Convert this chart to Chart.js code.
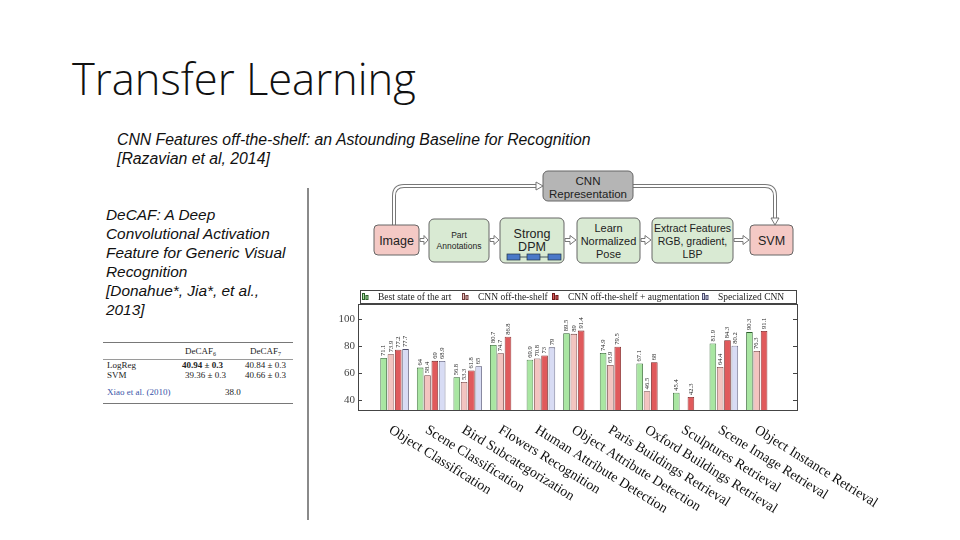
<!DOCTYPE html>
<html><head><meta charset="utf-8">
<script src="https://cdn.jsdelivr.net/npm/chart.js@4.4.1/dist/chart.umd.min.js"></script>
<style>
html,body{margin:0;padding:0;background:#fff;}
#slide{position:relative;width:960px;height:540px;overflow:hidden;background:#fff;}
.abs{position:absolute;white-space:nowrap;}
#title{left:72px;top:49px;font:300 43.5px 'Open Sans',sans-serif;color:#111;}
.it{font-family:'Liberation Sans',Arial,sans-serif;font-style:italic;color:#111;line-height:19px;}
#chartc{position:absolute;left:330px;top:286px;}
</style></head><body>
<div id="slide">
  <div class="abs" id="title">Transfer Learning</div>
  <div class="abs it" style="left:117px;top:130px;font-size:15.8px;">CNN Features off-the-shelf: an Astounding Baseline for Recognition<br>[Razavian et al, 2014]</div>
  <div class="abs it" style="left:106px;top:205px;font-size:15.4px;">DeCAF: A Deep<br>Convolutional Activation<br>Feature for Generic Visual<br>Recognition<br>[Donahue*, Jia*, et al.,<br>2013]</div>
  <svg class="abs" style="left:0;top:0" width="960" height="540" viewBox="0 0 960 540">
    <line x1="308" y1="188" x2="308" y2="520" stroke="#8a8a8a" stroke-width="2"/>
    <g font-family="Liberation Serif, serif" font-size="9" fill="#222">
      <line x1="103" y1="342.5" x2="293" y2="342.5" stroke="#555" stroke-width="0.8"/>
      <text x="185" y="354">DeCAF<tspan font-size="6" dy="2">6</tspan></text>
      <text x="250" y="354">DeCAF<tspan font-size="6" dy="2">7</tspan></text>
      <line x1="103" y1="359.5" x2="293" y2="359.5" stroke="#555" stroke-width="0.6"/>
      <text x="107" y="368">LogReg</text>
      <text x="182" y="368" font-weight="bold">40.94 ± 0.3</text>
      <text x="245" y="368">40.84 ± 0.3</text>
      <text x="107" y="378">SVM</text>
      <text x="185" y="378">39.36 ± 0.3</text>
      <text x="245" y="378">40.66 ± 0.3</text>
      <text x="107" y="395" fill="#3a55a8">Xiao et al. (2010)</text>
      <text x="225" y="395">38.0</text>
      <line x1="103" y1="403.5" x2="293" y2="403.5" stroke="#555" stroke-width="0.8"/>
    </g>
    <path d="M394 225 V196 Q394 186 404 186 H537" fill="none" stroke="#777" stroke-width="4"/>
    <path d="M394 225 V196 Q394 186 404 186 H537" fill="none" stroke="#fff" stroke-width="2"/>
    <polygon points="536,182 543,186 536,190" fill="#fff" stroke="#777" stroke-width="1"/>
    <path d="M633 186 H765 Q775 186 775 196 V219" fill="none" stroke="#777" stroke-width="4"/>
    <path d="M633 186 H765 Q775 186 775 196 V219" fill="none" stroke="#fff" stroke-width="2"/>
    <polygon points="771,218 775,225 779,218" fill="#fff" stroke="#777" stroke-width="1"/>
    <g font-family="Liberation Sans, Arial, sans-serif" text-anchor="middle" fill="#222">
      <rect x="543" y="171" width="90" height="30" rx="5" fill="#b5b5b5" stroke="#666"/>
      <text x="588" y="185" font-size="11.5">CNN</text>
      <text x="588" y="197.5" font-size="11.5">Representation</text>
      <rect x="374" y="225" width="45" height="30" rx="4" fill="#f4c9c5" stroke="#666"/>
      <text x="396.5" y="245" font-size="12.5">Image</text>
      <rect x="429" y="219" width="60" height="43" rx="5" fill="#d9ead3" stroke="#666"/>
      <text x="459" y="238" font-size="8.5">Part</text>
      <text x="459" y="249" font-size="8.5">Annotations</text>
      <rect x="500" y="218" width="64" height="45" rx="5" fill="#d9ead3" stroke="#666"/>
      <text x="532" y="238" font-size="12.5">Strong</text>
      <text x="532" y="251" font-size="12.5">DPM</text>
      <rect x="507" y="254" width="13" height="6" fill="#4a78c8" stroke="#234" stroke-width="0.7"/>
      <rect x="527" y="254" width="13" height="6" fill="#4a78c8" stroke="#234" stroke-width="0.7"/>
      <rect x="548" y="254" width="13" height="6" fill="#4a78c8" stroke="#234" stroke-width="0.7"/>
      <line x1="520" y1="257" x2="527" y2="257" stroke="#234" stroke-width="0.8"/>
      <line x1="540" y1="257" x2="548" y2="257" stroke="#234" stroke-width="0.8"/>
      <rect x="577" y="218" width="63" height="45" rx="5" fill="#d9ead3" stroke="#666"/>
      <text x="608.5" y="232" font-size="11">Learn</text>
      <text x="608.5" y="245" font-size="11">Normalized</text>
      <text x="608.5" y="258" font-size="11">Pose</text>
      <rect x="652" y="218" width="81" height="45" rx="5" fill="#d9ead3" stroke="#666"/>
      <text x="692.5" y="232" font-size="10.5">Extract Features</text>
      <text x="692.5" y="245" font-size="10.5">RGB, gradient,</text>
      <text x="692.5" y="258" font-size="10.5">LBP</text>
      <rect x="750" y="225" width="43" height="30" rx="4" fill="#f4c9c5" stroke="#666"/>
      <text x="771.5" y="245" font-size="12.5">SVM</text>
    </g>
    <g fill="#fff" stroke="#777" stroke-width="1">
      <polygon points="420,238.5 424,238.5 424,235.5 428,240 424,244.5 424,241.5 420,241.5"/>
      <polygon points="490,238.5 494,238.5 494,235.5 499,240 494,244.5 494,241.5 490,241.5"/>
      <polygon points="565,238.5 570,238.5 570,235.5 576,240 570,244.5 570,241.5 565,241.5"/>
      <polygon points="641,238.5 645,238.5 645,235.5 651,240 645,244.5 645,241.5 641,241.5"/>
      <polygon points="734,238.5 743,238.5 743,235.5 749,240 743,244.5 743,241.5 734,241.5"/>
    </g>
  </svg>
  <canvas id="chartc" width="580" height="234" style="width:580px;height:234px"></canvas>
</div>
<script>
const categories = ['Object Classification','Scene Classification','Bird Subcategorization','Flowers Recognition','Human Attribute Detection','Object Attribute Detection','Paris Buildings Retrieval','Oxford Buildings Retrieval','Sculptures Retrieval','Scene Image Retrieval','Object Instance Retrieval'];
const seriesNames = ['Best state of the art','CNN off-the-shelf','CNN off-the-shelf + augmentation','Specialized CNN'];
const bestStateOfArt = [71.1, 64, 56.8, 80.7, 69.9, 89.5, 74.9, 67.1, 45.4, 81.9, 90.3];
const cnnOffTheShelf = [73.9, 58.4, 53.3, 74.7, 70.8, 89, 65.9, 46.5, null, 64.4, 76.3];
const cnnAugmentation = [77.2, 69, 61.8, 86.8, 73, 91.4, 79.5, 68, 42.3, 84.3, 91.1];
const specializedCnn = [77.7, 68.9, 65, null, 79, null, null, null, null, 80.2, null];
const yTickValues = [40, 60, 80, 100];

const fills = ['#a9e6a2','#f3c4c0','#e05a5c','#d8dcf4'];
const borders = ['#2c5e2c','#6e3c3c','#701c1c','#4c4c6c'];
const seriesData = [bestStateOfArt, cnnOffTheShelf, cnnAugmentation, specializedCnn];
const legendTextX = [48, 148, 238, 388];

const datasets = seriesData.map((arr, k) => ({
  label: seriesNames[k],
  data: arr.map((v, i) => ({x: i + 1, y: v})),
  backgroundColor: fills[k],
  borderColor: borders[k],
  borderWidth: 0.8,
  categoryPercentage: 0.8,
  barPercentage: 0.9
}));

const serif = "'Liberation Serif', 'DejaVu Serif', serif";

const framePlugin = {
  id: 'frame',
  afterDraw(chart) {
    const {ctx, chartArea: a, scales} = chart;
    ctx.save();
    ctx.strokeStyle = '#444';
    ctx.lineWidth = 1;
    ctx.strokeRect(a.left + 0.5, a.top + 0.5, a.right - a.left, a.bottom - a.top);
    yTickValues.forEach(v => {
      const y = Math.round(scales.y.getPixelForValue(v)) + 0.5;
      ctx.beginPath();
      ctx.moveTo(a.left, y); ctx.lineTo(a.left + 4, y);
      ctx.moveTo(a.right, y); ctx.lineTo(a.right - 4, y);
      ctx.stroke();
    });
    ctx.fillStyle = '#222';
    ctx.font = '6.5px ' + serif;
    ctx.textAlign = 'left';
    ctx.textBaseline = 'middle';
    chart.data.datasets.forEach((ds, k) => {
      const meta = chart.getDatasetMeta(k);
      meta.data.forEach((el, i) => {
        const v = seriesData[k][i];
        if (v === null || v === undefined) return;
        ctx.save();
        ctx.translate(el.x, el.y - 2);
        ctx.rotate(-Math.PI / 2);
        ctx.fillText(String(v), 0, 0);
        ctx.restore();
      });
    });
    ctx.fillStyle = '#111';
    ctx.font = '14px ' + serif;
    ctx.textBaseline = 'top';
    categories.forEach((c, i) => {
      const x = scales.x.getPixelForValue(i + 1);
      ctx.save();
      ctx.translate(x - 1, a.bottom + 13);
      ctx.rotate(32 * Math.PI / 180);
      ctx.fillText(c, 0, 0);
      ctx.restore();
    });
    const top = 4, bot = 17;
    ctx.strokeStyle = '#444';
    ctx.strokeRect(a.left + 2.5, top + 0.5, a.right - a.left - 3, bot - top);
    ctx.font = '9.5px ' + serif;
    ctx.textBaseline = 'middle';
    seriesNames.forEach((n, k) => {
      const tx = legendTextX[k];
      const x = tx - 16;
      ctx.fillStyle = fills[k];
      ctx.strokeStyle = borders[k];
      ctx.fillRect(x, top + 3, 2.5, 7);
      ctx.strokeRect(x + 0.5, top + 3.5, 2, 6);
      ctx.fillRect(x + 3.5, top + 5, 2.5, 5);
      ctx.strokeRect(x + 4, top + 5.5, 2, 4);
      ctx.fillStyle = '#222';
      ctx.fillText(n, tx, (top + bot) / 2 + 0.5);
    });
    ctx.restore();
  }
};

new Chart(document.getElementById('chartc'), {
  type: 'bar',
  data: { datasets },
  options: {
    responsive: false,
    animation: false,
    layout: { padding: { left: 0, top: 18, right: 113, bottom: 110 } },
    plugins: { legend: { display: false }, tooltip: { enabled: false } },
    scales: {
      x: { type: 'linear', min: 0, max: 12, display: false, offset: false, grid: { offset: false } },
      y: {
        min: 32.6, max: 111.1,
        afterBuildTicks: s => { s.ticks = yTickValues.map(v => ({ value: v })); },
        afterFit: s => { s.width = 28; },
        grid: { display: true, drawOnChartArea: false, drawTicks: false },
        border: { display: false },
        ticks: { padding: 3, color: '#444', font: { family: serif, size: 11 } }
      }
    }
  },
  plugins: [framePlugin]
});
</script>
</body></html>
